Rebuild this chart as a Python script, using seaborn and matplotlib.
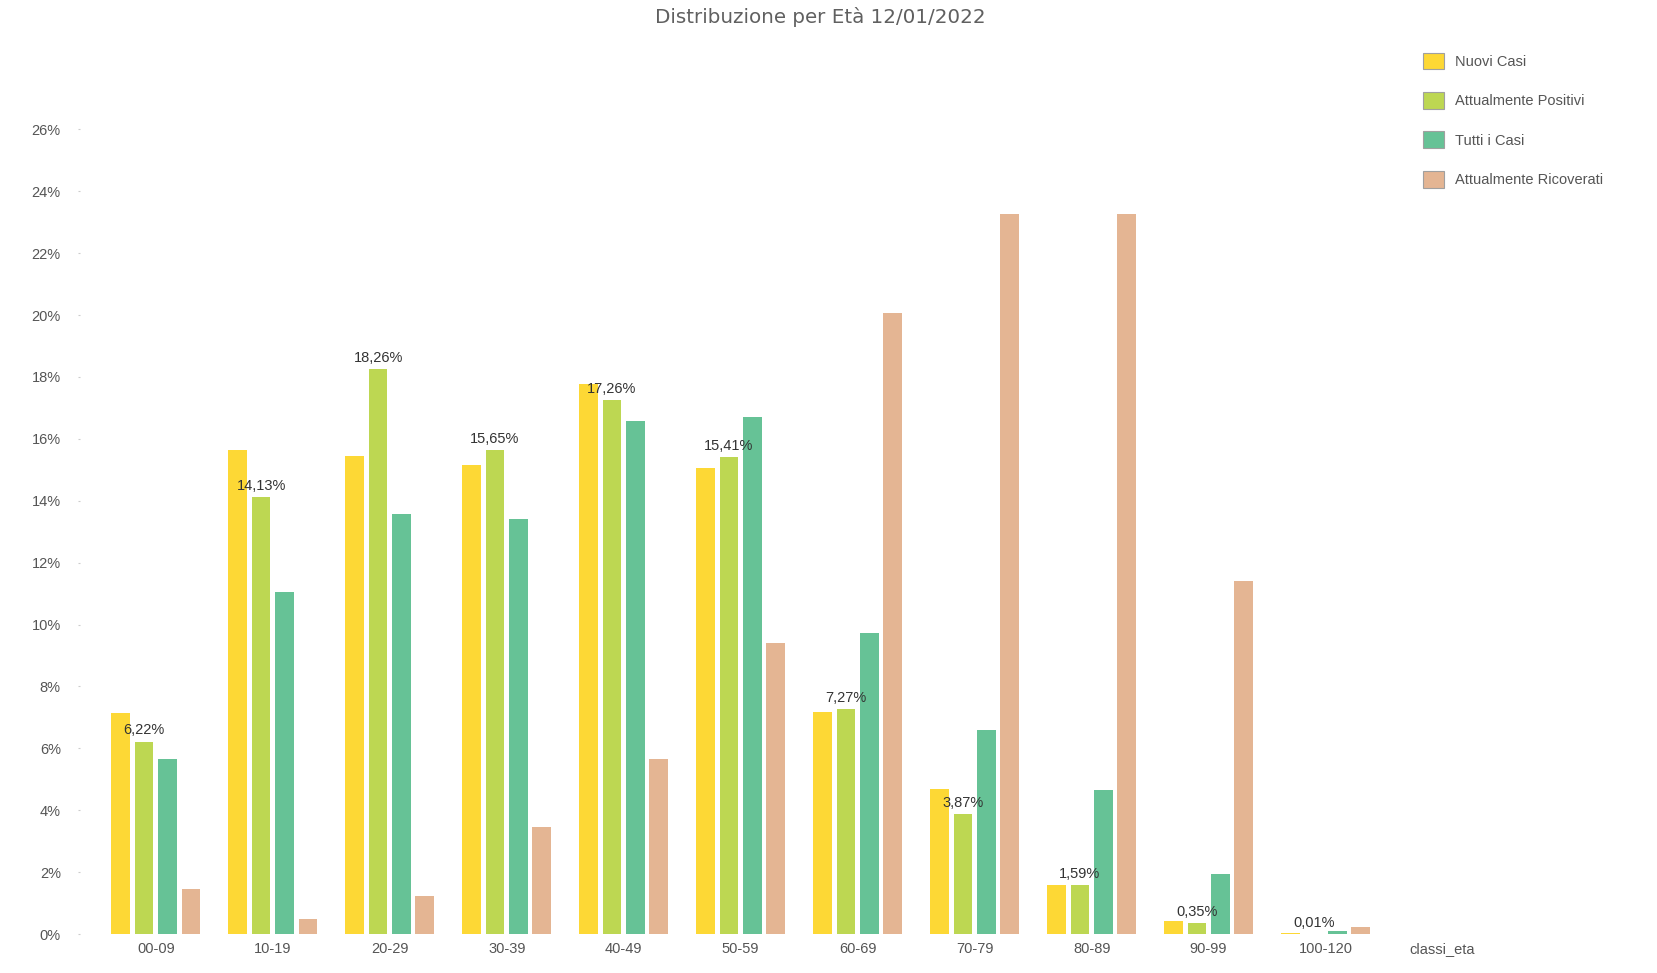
import matplotlib
matplotlib.use("Agg")
import matplotlib.pyplot as plt
import seaborn as sns
import pandas as pd
from matplotlib.ticker import FuncFormatter
from matplotlib.patches import Patch

classi_eta = ["00-09", "10-19", "20-29", "30-39", "40-49", "50-59",
              "60-69", "70-79", "80-89", "90-99", "100-120"]
serie = ["Nuovi Casi", "Attualmente Positivi", "Tutti i Casi", "Attualmente Ricoverati"]
colori = ["#FDD835", "#BDD752", "#66C296", "#E4B593"]

nuovi_casi = [7.13, 15.63, 15.46, 15.15, 17.78, 15.05, 7.17, 4.68, 1.57, 0.41, 0.03]
attualmente_positivi = [6.22, 14.13, 18.26, 15.65, 17.26, 15.41, 7.27, 3.87, 1.59, 0.35, 0.01]
tutti_i_casi = [5.67, 11.06, 13.58, 13.41, 16.59, 16.69, 9.73, 6.59, 4.64, 1.95, 0.10]
ricoverati = [1.47, 0.48, 1.23, 3.45, 5.67, 9.42, 20.07, 23.28, 23.28, 11.40, 0.24]

df = pd.DataFrame({
    "classi_eta": classi_eta * 4,
    "serie": [s for s in serie for _ in classi_eta],
    "valore": nuovi_casi + attualmente_positivi + tutti_i_casi + ricoverati,
})

sns.set_theme(style="white")
plt.rcParams['font.family'] = ['Liberation Sans', 'DejaVu Sans']

fig = plt.figure(figsize=(16.57, 9.73), dpi=100)
ax = fig.add_axes([0.048, 0.04, 0.86, 0.843])

sns.barplot(data=df, x="classi_eta", y="valore", hue="serie", order=classi_eta,
            hue_order=serie, palette=colori, width=0.8, gap=0.2, saturation=1,
            linewidth=0, legend=False, ax=ax)

# etichette solo sugli Attualmente Positivi
cont = ax.containers[1]
etichette = [f"{v:.2f}%".replace(".", ",") for v in attualmente_positivi]
ax.bar_label(cont, labels=etichette, padding=3, fontsize=10.5, color="#333333")

ax.set_ylim(0, 26.5)
ax.set_xlim(-0.652, 11.53)
ax.set_yticks(range(0, 27, 2))
ax.yaxis.set_major_formatter(FuncFormatter(lambda v, p: f"{v:.0f}%"))
ax.tick_params(axis="y", length=1.5, width=0.8, color="#cccccc", pad=12,
               labelsize=10.5, labelcolor="#555555", left=True)
ax.tick_params(axis="x", length=0, pad=6, labelsize=10.5, labelcolor="#555555")
for s in ax.spines.values():
    s.set_visible(False)
ax.set_xlabel("")
ax.set_ylabel("")
ax.annotate("classi_eta", xy=(len(classi_eta), 0), xycoords=("data", "axes fraction"),
            xytext=(0, -6), textcoords="offset points", ha="center", va="top",
            fontsize=10.5, color="#555555")

fig.suptitle("Distribuzione per Età 12/01/2022", x=0.495, y=0.983, va="center",
             fontsize=14.3, color="#606060", family=["DejaVu Sans"])

handles = [Patch(facecolor=c, edgecolor="#a0a0a0", linewidth=0.8) for c in colori]
fig.legend(handles, serie, loc="upper left", bbox_to_anchor=(0.859, 0.946),
           frameon=False, fontsize=10.5, labelcolor="#555555",
           handlelength=1.4, handleheight=1.4, handletextpad=0.8,
           labelspacing=1.55, borderpad=0, borderaxespad=0)

plt.savefig("out.png", dpi=100)
